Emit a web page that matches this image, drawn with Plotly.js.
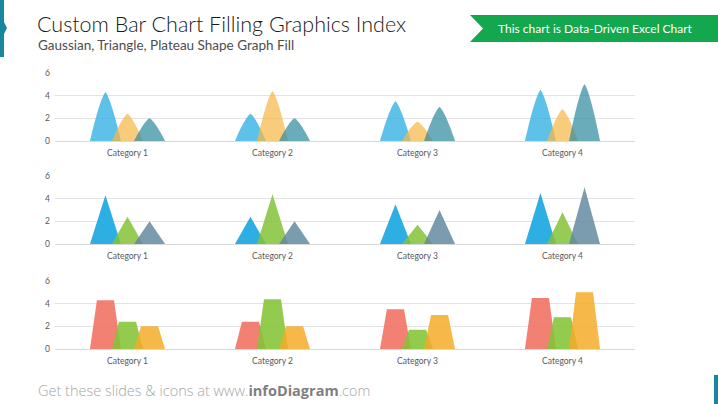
<!DOCTYPE html>
<html>
<head>
<meta charset="utf-8">
<script src="https://cdn.plot.ly/plotly-3.0.1.min.js"></script>
<style>html,body{margin:0;padding:0;background:#fff;}#chart{width:718px;height:404px;}</style>
</head>
<body>
<div id="chart"></div>
<script>
// ---- data ----
var categories = ["Category 1", "Category 2", "Category 3", "Category 4"];
var series1 = [4.3, 2.4, 3.5, 4.5];
var series2 = [2.4, 4.4, 1.7, 2.8];
var series3 = [2.0, 2.0, 3.0, 5.0];
var yTicks = [0, 2, 4, 6];

var titleText = "Custom Bar Chart Filling Graphics Index";
var subtitleText = "Gaussian, Triangle, Plateau Shape Graph Fill";
var bannerText = "This chart is Data-Driven Excel Chart";

// ---- shape generators (outline in category units) ----
var HALF = 0.107, OFFS = [-0.152, 0, 0.152];
function gaussOutline(v) {
  var p = 1.35, xs = [], ys = [];
  for (var i = 0; i <= 40; i++) {
    var t = -1 + i / 20;
    xs.push(t * HALF);
    ys.push(v * (1 - Math.pow(Math.abs(t), p)));
  }
  return [xs, ys];
}
function triOutline(v) { return [[-HALF, 0, HALF], [0, v, 0]]; }
function plateauOutline(v) { return [[-HALF, -HALF * 0.55, HALF * 0.55, HALF], [0, v, v, 0]]; }

function buildTrace(vals, k, outlineFn, color, axis) {
  var x = [], y = [];
  vals.forEach(function (v, i) {
    var o = outlineFn(v);
    for (var j = 0; j < o[0].length; j++) { x.push(i + OFFS[k] + o[0][j]); y.push(o[1][j]); }
    x.push(null); y.push(null);
  });
  return {x: x, y: y, type: "scatter", mode: "lines", fill: "toself", fillcolor: color,
          line: {width: 0, color: color, shape: "spline", smoothing: 0.6}, hoverinfo: "skip", showlegend: false,
          xaxis: "x" + axis, yaxis: "y" + axis, connectgaps: false};
}

var allSeries = [series1, series2, series3];
var panels = [
  {fn: gaussOutline, colors: ["rgba(48,176,228,0.78)", "rgba(246,184,72,0.72)", "rgba(50,140,160,0.72)"]},
  {fn: triOutline, colors: ["rgba(28,168,226,0.92)", "rgba(132,194,55,0.85)", "rgba(100,138,160,0.85)"]},
  {fn: plateauOutline, colors: ["rgba(240,110,96,0.88)", "rgba(132,196,55,0.88)", "rgba(244,172,40,0.85)"]}
];
var axisSuffix = ["", "2", "3"];
var traces = [];
panels.forEach(function (p, pi) {
  allSeries.forEach(function (s, k) {
    var tr = buildTrace(s, k, p.fn, p.colors[k], axisSuffix[pi]);
    if (pi !== 0) tr.line.shape = "linear";
    traces.push(tr);
  });
});

function py(px) { return 1 - px / 404; }
function xAxis(anchor) {
  return {domain: [55 / 718, 635 / 718], range: [-0.5, 3.5], tickvals: [0, 1, 2, 3], ticktext: categories,
          showgrid: false, zeroline: false, showline: false, ticks: "", anchor: anchor, fixedrange: true,
          ticklabelstandoff: 5,
          tickfont: {family: "Lato, 'Open Sans', sans-serif", size: 8.5, color: "#595959"}};
}
function yAxis(domain, anchor) {
  return {domain: domain, range: [0, 6], tickvals: yTicks, showgrid: true, gridcolor: "#E3E3E3", gridwidth: 1,
          zeroline: true, zerolinecolor: "#D9D9D9", zerolinewidth: 1, showline: false, anchor: anchor, ticks: "",
          fixedrange: true, ticklabelstandoff: 4,
          tickfont: {family: "Lato, 'Open Sans', sans-serif", size: 8.5, color: "#595959"}};
}

var layout = {
  width: 718, height: 404, margin: {l: 0, r: 0, t: 0, b: 0},
  paper_bgcolor: "#fff", plot_bgcolor: "rgba(0,0,0,0)", showlegend: false,
  xaxis: xAxis("y"), yaxis: yAxis([py(141), py(73)], "x"),
  xaxis2: xAxis("y2"), yaxis2: yAxis([py(244), py(176)], "x2"),
  xaxis3: xAxis("y3"), yaxis3: yAxis([py(349), py(281)], "x3"),
  shapes: [
    {type: "path", xref: "paper", yref: "paper", line: {width: 0}, fillcolor: "#17869E",
     path: "M0,1 L" + (4 / 718) + ",1 L" + (4 / 718) + "," + py(22) + " L" + (7 / 718) + "," + py(28) + " L" + (4 / 718) + "," + py(34) + " L" + (4 / 718) + "," + py(57) + " L0," + py(57) + " Z"},
    {type: "path", xref: "paper", yref: "paper", line: {width: 0}, fillcolor: "#13A84D",
     path: "M" + (470 / 718) + "," + py(15) + " L1," + py(15) + " L1," + py(42) + " L" + (470 / 718) + "," + py(42) + " L" + (483 / 718) + "," + py(28.5) + " Z"},
    {type: "rect", xref: "paper", yref: "paper", x0: 714 / 718, x1: 1, y0: 0, y1: py(375), line: {width: 0}, fillcolor: "#17869E"}
  ],
  annotations: [
    {text: titleText, xref: "paper", yref: "paper", x: 35 / 718, y: py(9), xanchor: "left", yanchor: "top", showarrow: false,
     font: {family: "Lato, 'Open Sans', sans-serif", size: 21.5, color: "#1A1A1A", weight: 300}},
    {text: subtitleText, xref: "paper", yref: "paper", x: 36 / 718, y: py(35), xanchor: "left", yanchor: "top", showarrow: false,
     font: {family: "Lato, 'Open Sans', sans-serif", size: 13.5, color: "#4D4D4D"}},
    {text: bannerText, xref: "paper", yref: "paper", x: 595 / 718, y: py(28.5), xanchor: "center", yanchor: "middle", showarrow: false,
     font: {family: "Lato, 'Open Sans', sans-serif", size: 12, color: "#FFFFFF"}},
    {text: "Get these slides &amp; icons at www.<b style='color:#7F7F7F'>infoDiagram</b>.com", xref: "paper", yref: "paper",
     x: 36 / 718, y: py(390), xanchor: "left", yanchor: "middle", showarrow: false,
     font: {family: "'Open Sans', Lato, sans-serif", size: 14.5, color: "#A6A6A6", weight: 300}}
  ]
};

Plotly.newPlot("chart", traces, layout, {staticPlot: true, displayModeBar: false});
</script>
</body>
</html>
